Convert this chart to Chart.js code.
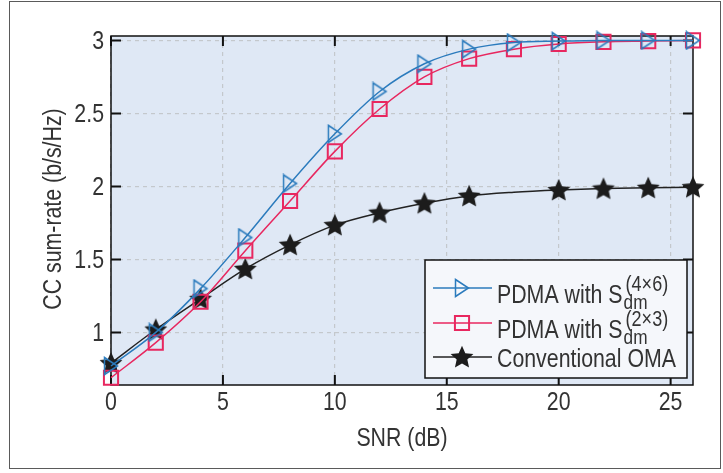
<!DOCTYPE html>
<html>
<head>
<meta charset="utf-8">
<script src="https://cdn.jsdelivr.net/npm/chart.js@4.4.1/dist/chart.umd.min.js"></script>
<style>
  body { margin: 0; background: #fff; }
  #chart { display: block; }
</style>
</head>
<body>
<canvas id="chart" width="723" height="473"></canvas>
<script>
// datos
const snr = [0, 2, 4, 6, 8, 10, 12, 14, 16, 18, 20, 22, 24, 26];
const pdma46 = [0.77, 1.00, 1.30, 1.65, 2.02, 2.36, 2.65, 2.84, 2.94, 2.985, 2.995, 3.0, 3.0, 3.0];
const pdma23 = [0.69, 0.93, 1.21, 1.56, 1.90, 2.24, 2.53, 2.75, 2.875, 2.94, 2.975, 2.99, 2.995, 3.0];
const oma = [0.79, 1.02, 1.23, 1.435, 1.60, 1.735, 1.82, 1.885, 1.935, 1.96, 1.975, 1.985, 1.99, 1.995];
const xTicks = [0, 5, 10, 15, 20, 25];
const xTickLabels = ['0', '5', '10', '15', '20', '25'];
const yTicks = [1, 1.5, 2, 2.5, 3];
const yTickLabels = ['1', '1.5', '2', '2.5', '3'];
const legendMain = ['PDMA with S', 'PDMA with S', 'Conventional OMA'];
const legendSub = ['dm', 'dm', ''];
const legendSup = ['(4\u00d76)', '(2\u00d73)', ''];

const FONT = '"Liberation Sans", Arial, sans-serif';
const NARROW = 0.82; // la fuente original es condensada
const TXT = '#333333';
const BLUE = '#2b7bbd';
const RED = '#e8275f';
const DARK = '#222222';

// texto condensado horizontalmente
function narrowText(ctx, str, x, y, size, align, rot) {
  ctx.save();
  ctx.font = size + 'px ' + FONT;
  ctx.fillStyle = TXT;
  ctx.textAlign = align || 'left';
  ctx.textBaseline = 'alphabetic';
  ctx.translate(x, y);
  if (rot) ctx.rotate(rot);
  ctx.scale(NARROW, 1);
  ctx.fillText(str, 0, 0);
  const w = ctx.measureText(str).width * NARROW;
  ctx.restore();
  return w;
}

// marcadores propios
function makeTriangle() {
  const c = document.createElement('canvas');
  c.width = 18; c.height = 20;
  const g = c.getContext('2d');
  g.strokeStyle = BLUE;
  g.lineWidth = 1.5;
  g.beginPath();
  g.moveTo(2.5, 1.5);
  g.lineTo(15.5, 10);
  g.lineTo(2.5, 18.5);
  g.closePath();
  g.stroke();
  return c;
}

function makeStar() {
  const c = document.createElement('canvas');
  c.width = 26; c.height = 26;
  const g = c.getContext('2d');
  g.fillStyle = '#1c1c1c';
  g.beginPath();
  for (let i = 0; i < 10; i++) {
    const r = i % 2 === 0 ? 12 : 5.6;
    const a = -Math.PI / 2 + i * Math.PI / 5;
    const px = 13 + r * Math.cos(a);
    const py = 13.8 + r * Math.sin(a);
    if (i === 0) g.moveTo(px, py); else g.lineTo(px, py);
  }
  g.closePath();
  g.fill();
  return c;
}

const triImg = makeTriangle();
const starImg = makeStar();

// sin estrella en 18 dB como en la figura
const starRadius = snr.map(v => v === 18 ? 0 : 10);

const frameAndBg = {
  id: 'frameAndBg',
  beforeDraw(chart) {
    const { ctx, chartArea: a } = chart;
    ctx.save();
    ctx.strokeStyle = '#5a5a5a';
    ctx.lineWidth = 1;
    ctx.strokeRect(9.5, 1.5, 711, 467);
    ctx.fillStyle = '#dfe8f5';
    ctx.fillRect(a.left, a.top, a.right - a.left, a.bottom - a.top);
    ctx.restore();
  },
  beforeDatasetsDraw(chart) {
    const { ctx, chartArea: a, scales: { x, y } } = chart;
    ctx.save();
    ctx.strokeStyle = '#111';
    ctx.lineWidth = 1.5;
    ctx.strokeRect(a.left, a.top, a.right - a.left, a.bottom - a.top);
    ctx.lineWidth = 2;
    ctx.beginPath();
    xTicks.forEach(v => {
      const px = x.getPixelForValue(v);
      ctx.moveTo(px, a.bottom); ctx.lineTo(px, a.bottom - 10);
      ctx.moveTo(px, a.top); ctx.lineTo(px, a.top + 10);
    });
    yTicks.forEach(v => {
      const py = y.getPixelForValue(v);
      ctx.moveTo(a.left, py); ctx.lineTo(a.left + 10, py);
      ctx.moveTo(a.right, py); ctx.lineTo(a.right - 10, py);
    });
    ctx.stroke();
    ctx.restore();
  },
  afterDraw(chart) {
    const { ctx, chartArea: a, scales: { x, y } } = chart;

    // etiquetas de ejes
    xTicks.forEach((v, i) => {
      narrowText(ctx, xTickLabels[i], x.getPixelForValue(v), a.bottom + 25, 26, 'center');
    });
    yTicks.forEach((v, i) => {
      narrowText(ctx, yTickLabels[i], a.left - 7, y.getPixelForValue(v) + 9, 26, 'right');
    });
    narrowText(ctx, 'SNR (dB)', (a.left + a.right) / 2, 446, 26, 'center');
    narrowText(ctx, 'CC sum-rate (b/s/Hz)', 61, 209, 26, 'center', -Math.PI / 2);

    // leyenda
    const bx = 425, by = 260, bw = 262, bh = 118;
    ctx.save();
    ctx.fillStyle = '#f5f7fb';
    ctx.fillRect(bx, by, bw, bh);
    ctx.strokeStyle = '#111';
    ctx.lineWidth = 1.5;
    ctx.strokeRect(bx, by, bw, bh);
    const rowsY = [288, 323, 357];
    chart.data.datasets.forEach((ds, i) => {
      const ry = rowsY[i];
      ctx.strokeStyle = ds.borderColor;
      ctx.lineWidth = ds.borderWidth;
      ctx.beginPath();
      ctx.moveTo(433, ry); ctx.lineTo(492, ry);
      ctx.stroke();
      ctx.fillStyle = 'rgba(0,0,0,0)';
      ctx.strokeStyle = ds.pointBorderColor || ds.borderColor;
      ctx.lineWidth = ds.pointBorderWidth;
      Chart.helpers.drawPoint(ctx, {
        pointStyle: ds.pointStyle,
        radius: 10,
        rotation: 0,
        borderWidth: ds.pointBorderWidth
      }, 462, ry);
      if (legendSub[i]) {
        const base = ry + 15;
        const w = narrowText(ctx, legendMain[i], 497, base, 26, 'left');
        narrowText(ctx, legendSub[i], 497 + w + 1, base + 6, 21, 'left');
        narrowText(ctx, legendSup[i], 497 + w + 3, base - 12, 22, 'left');
      } else {
        narrowText(ctx, legendMain[i], 497, ry + 10, 26, 'left');
      }
    });
    ctx.restore();
  }
};

new Chart(document.getElementById('chart'), {
  type: 'line',
  data: {
    labels: snr,
    datasets: [
      {
        label: legendMain[0] + legendSub[0] + legendSup[0],
        data: snr.map((v, i) => ({ x: v, y: pdma46[i] })),
        borderColor: BLUE,
        borderWidth: 1.5,
        pointStyle: triImg,
        pointRadius: 10,
        pointBorderWidth: 1.5,
        pointBorderColor: BLUE,
        pointBackgroundColor: 'rgba(0,0,0,0)',
        cubicInterpolationMode: 'monotone',
        clip: false
      },
      {
        label: legendMain[1] + legendSub[1] + legendSup[1],
        data: snr.map((v, i) => ({ x: v, y: pdma23[i] })),
        borderColor: RED,
        borderWidth: 1.5,
        pointStyle: 'rect',
        pointRadius: 10,
        pointBorderWidth: 2,
        pointBorderColor: RED,
        pointBackgroundColor: 'rgba(0,0,0,0)',
        cubicInterpolationMode: 'monotone',
        clip: false
      },
      {
        label: legendMain[2],
        data: snr.map((v, i) => ({ x: v, y: oma[i] })),
        borderColor: DARK,
        borderWidth: 1.5,
        pointStyle: starImg,
        pointRadius: starRadius,
        pointBorderWidth: 1,
        cubicInterpolationMode: 'monotone',
        clip: false
      }
    ]
  },
  plugins: [frameAndBg],
  options: {
    responsive: false,
    animation: false,
    events: [],
    layout: { padding: { top: 36, right: 30, left: 0, bottom: 0 } },
    plugins: { legend: { display: false }, tooltip: { enabled: false } },
    scales: {
      x: {
        type: 'linear',
        min: 0,
        max: 26,
        afterBuildTicks: s => { s.ticks = xTicks.map(v => ({ value: v })); },
        afterFit: s => { s.height = 88; },
        grid: { color: '#c4c8cc', lineWidth: 1.2, drawTicks: false },
        border: { display: false, dash: [4, 4] },
        ticks: { display: false }
      },
      y: {
        min: 0.64,
        max: 3.03,
        afterBuildTicks: s => { s.ticks = yTicks.map(v => ({ value: v })); },
        afterFit: s => { s.width = 111; },
        grid: { color: '#c4c8cc', lineWidth: 1.2, drawTicks: false },
        border: { display: false, dash: [4, 4] },
        ticks: { display: false }
      }
    }
  }
});
</script>
</body>
</html>
